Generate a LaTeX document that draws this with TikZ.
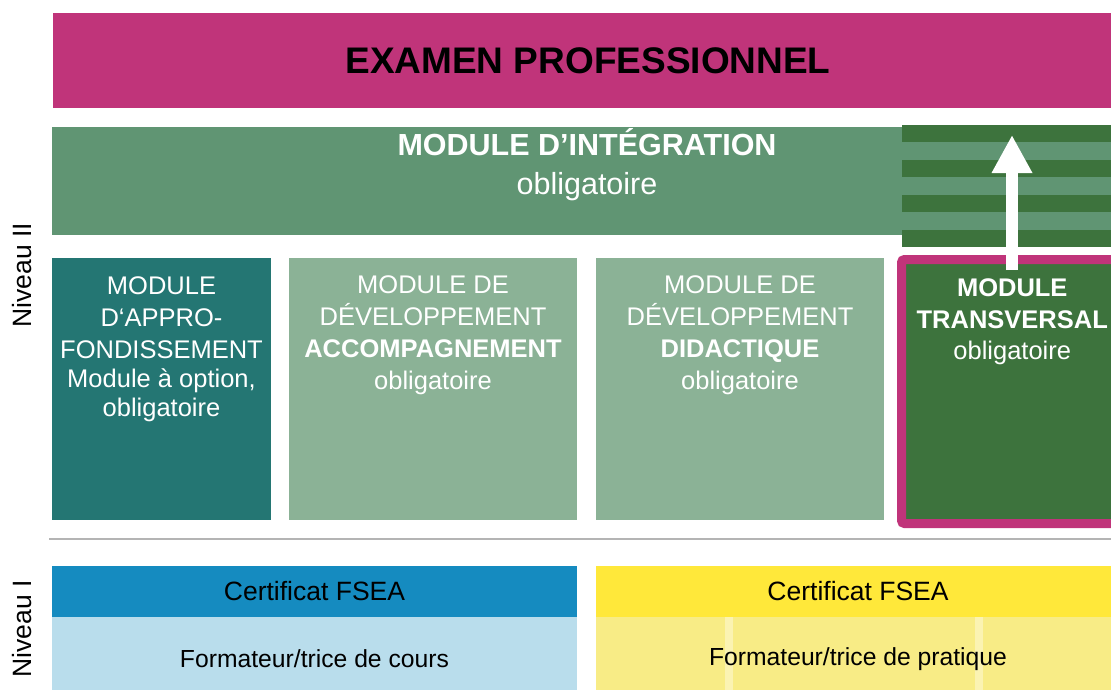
\documentclass[tikz,border=0pt]{standalone}
\usepackage{fontspec}
\setmainfont{Liberation Sans}
\usetikzlibrary{positioning,arrows.meta}
\definecolor{exammag}{RGB}{192,52,122}
\definecolor{integgreen}{RGB}{96,149,115}
\definecolor{approfteal}{RGB}{36,118,115}
\definecolor{devgreen}{RGB}{139,178,150}
\definecolor{transgreen}{RGB}{61,115,61}
\definecolor{certblue}{RGB}{21,139,192}
\definecolor{coursblue}{RGB}{185,221,236}
\definecolor{certyellow}{RGB}{255,232,58}
\definecolor{pratyellow}{RGB}{248,236,134}
\definecolor{paleyellow}{RGB}{251,243,178}
\definecolor{sepgrey}{RGB}{180,180,180}
\tikzstyle{block} = [rectangle, inner sep=0pt, outer sep=0pt, anchor=north west]
\tikzstyle{modtxt} = [text=white, align=center, inner sep=0pt, font=\fontsize{25.5}{32}\selectfont]
\tikzstyle{certtxt} = [text=black, inner sep=0pt, font=\fontsize{26.5}{30}\selectfont]
\tikzstyle{lowtxt} = [text=black, inner sep=0pt, font=\fontsize{24.7}{28}\selectfont]
\tikzstyle{niveau} = [rotate=90, inner sep=0pt, font=\fontsize{26.5}{30}\selectfont]
\tikzstyle{bigarrow} = [-{Triangle[width=38pt,length=38pt]}, line width=12pt, white]

\begin{document}
\begin{tikzpicture}[x=1pt, y=-1pt]
	\clip (0,0) rectangle (1111,689);
	% niveau II
	\node (exam) [block, fill=exammag, minimum width=1070pt, minimum height=95pt,
		font=\fontsize{37}{40}\bfseries, text=black] at (53,13) {EXAMEN PROFESSIONNEL};
	\node (integ) [block, fill=integgreen, minimum width=850pt, minimum height=108pt] at (52,127) {};
	\foreach \i in {0,...,6} {
		\ifodd\i \def\stripe{integgreen}\else \def\stripe{transgreen}\fi
		\fill[\stripe] (902,125+\i*17.43) rectangle (1111,125+\i*17.43+17.43);
	}
	\node (integhead) [text=white, inner sep=0pt, anchor=base, font=\fontsize{30.5}{36}\bfseries] at (587,155) {MODULE D’INTÉGRATION};
	\node (integsub) [text=white, inner sep=0pt, anchor=base, font=\fontsize{30.5}{36}\selectfont] at (587,194) {obligatoire};
	\node (approf) [block, fill=approfteal, minimum width=219pt, minimum height=262pt] at (52,258) {};
	\node (accomp) [block, fill=devgreen, minimum width=288pt, minimum height=262pt] at (289,258) {};
	\node (didact) [block, fill=devgreen, minimum width=288pt, minimum height=262pt] at (596,258) {};
	\node (transv) [block, fill=transgreen, draw=exammag, line width=9pt, rounded corners=3pt,
		minimum width=223.5pt, minimum height=264pt] at (901.5,259.5) {};
	\node (approftxt) [modtxt, below=18.7pt of approf.north] {MODULE\\ D‘APPRO-\\ FONDISSEMENT\\[-3pt] Module à option,\\[-3pt] obligatoire};
	\node (accomptxt) [modtxt, below=17.7pt of accomp.north] {MODULE DE\\ DÉVELOPPEMENT\\ {\bfseries ACCOMPAGNEMENT}\\ obligatoire};
	\node (didacttxt) [modtxt, below=17.7pt of didact.north] {MODULE DE\\ DÉVELOPPEMENT\\ {\bfseries DIDACTIQUE}\\ obligatoire};
	\node (transvtxt) [modtxt, below=18.7pt of transv.north, xshift=-1pt] {{\bfseries MODULE}\\ {\bfseries TRANSVERSAL}\\[-1pt] obligatoire};
	\coordinate (arrowfoot) at (1012,270);
	\coordinate (arrowtip) at (1012,135);
	\draw [bigarrow] (arrowfoot) -- (arrowtip);
	% separation
	\coordinate (sepL) at (49,539);
	\coordinate (sepR) at (1111,539);
	\draw [sepgrey, line width=2pt] (sepL) -- (sepR);
	% niveau I
	\node (certA) [block, fill=certblue, minimum width=525pt, minimum height=51pt, certtxt] at (52,566) {Certificat FSEA};
	\node (formA) [block, fill=coursblue, minimum width=525pt, minimum height=84pt, lowtxt] at (52,617) {Formateur/trice de cours};
	\node (certB) [block, fill=certyellow, minimum width=524pt, minimum height=51pt, certtxt] at (596,566) {Certificat FSEA};
	\node (formB) [block, fill=pratyellow, minimum width=524pt, minimum height=84pt] at (596,617) {};
	\fill[paleyellow] (725,617) rectangle (733,701);
	\fill[paleyellow] (975,617) rectangle (983,701);
	\node (formBtxt) [lowtxt] at (formB.center) {Formateur/trice de pratique};
	\node (niv2) [niveau] at (22,275) {Niveau II};
	\node (niv1) [niveau] at (22,629) {Niveau I};
\end{tikzpicture}
\end{document}
